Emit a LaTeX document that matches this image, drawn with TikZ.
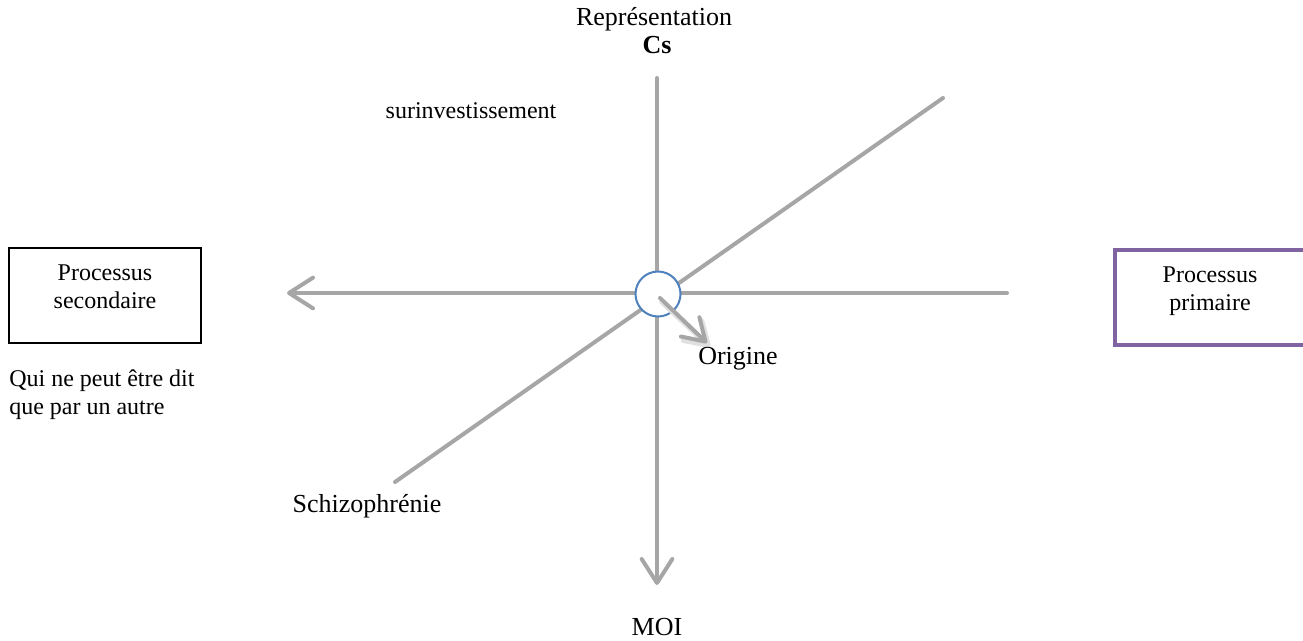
\documentclass[tikz,border=0pt]{standalone}
\usepackage{fontspec}
\setmainfont{Liberation Serif}
\usetikzlibrary{arrows.meta}
\definecolor{axisgray}{HTML}{A6A6A6}
\definecolor{ringblue}{HTML}{4F81BD}
\definecolor{boxpurple}{HTML}{8064A2}
\tikzset{
  axis/.style={draw=axisgray, line width=3pt, line cap=round},
  axisarrow/.style={axis, -{Straight Barb[length=18pt,width=23pt,line width=3pt,round]}},
  lbl/.style={inner sep=0pt, font=\fontsize{18}{21}\selectfont, align=center},
  biglbl/.style={inner sep=0pt, font=\fontsize{19.5}{22}\selectfont, align=center},
}
\begin{document}
\begin{tikzpicture}[x=0.75pt, y=-0.75pt]
  \useasboundingbox (0,0) rectangle (1303,640);

  % axis end points
  \coordinate (top) at (657,78);
  \coordinate (bottom) at (657,585);
  \coordinate (east) at (1007,293);
  \coordinate (west) at (287,293);
  \coordinate (sw) at (395,482);
  \coordinate (ne) at (943,98);

  % axes
  \draw[axis] (sw) -- (ne);
  \draw[axis] (east) -- (658,293);
  \draw[axisarrow] (658,293) -- (west);
  \draw[axis] (top) -- (657,293);
  \draw[axisarrow] (657,293) -- (bottom);

  % origin ring
  \node[circle, draw=ringblue, line width=1.5pt, fill=white, inner sep=0pt,
        minimum size=33.75pt] (o) at (658,294) {};

  % short arrow out of the origin, with a soft shadow
  \coordinate (otip) at (707,343);
  \draw[draw=black!12, line width=4pt, line cap=round,
        -{Straight Barb[length=16pt,width=20pt,line width=4pt,round]}]
        (662,302) -- (710,347);
  \draw[axisarrow, -{Straight Barb[length=16pt,width=20pt,line width=3pt,round]}]
        (o.center) ++(2,4) -- (otip);

  % labels
  \node[biglbl, anchor=base] (rep) at (654,25) {Représentation};
  \node[biglbl, anchor=base, font=\fontsize{19.5}{22}\selectfont\bfseries] (cs) at (657,53) {Cs};
  \node[lbl, anchor=base] (surinv) at (471,118) {surinvestissement};
  \node[biglbl, anchor=base] (orig) at (738,364) {Origine};
  \node[biglbl, anchor=base] (schizo) at (367,512) {Schizophrénie};
  \node[biglbl, anchor=base] (moi) at (657,635) {MOI};

  % secondary process box
  \draw[line width=1.5pt] (9,248) rectangle (201,343);
  \node[lbl] (sec) at (105,287) {Processus\\secondaire};
  \node[lbl, align=left, anchor=north west] (qui) at (9,370) {Qui ne peut être dit\\que par un autre};

  % primary process box
  \draw[draw=boxpurple, line width=3pt] (1115,250) rectangle (1307,345);
  \node[lbl] (prim) at (1210,291) {Processus\\primaire};
\end{tikzpicture}
\end{document}
